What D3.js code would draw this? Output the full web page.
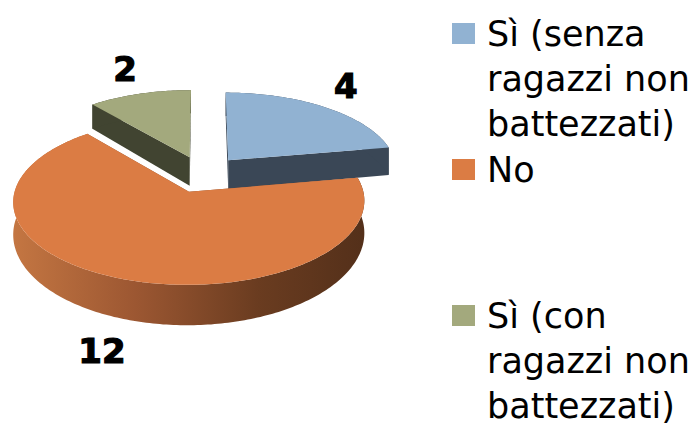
<!DOCTYPE html>
<html>
<head>
<meta charset="utf-8">
<script src="https://cdn.jsdelivr.net/npm/d3@7"></script>
<style>
  html, body { margin: 0; padding: 0; background: #fff; }
  svg { display: block; }
</style>
</head>
<body>
<div id="chart"></div>
<script>
// data
const categories = ["Sì (senza ragazzi non battezzati)", "No", "Sì (con ragazzi non battezzati)"];
const values = [4, 12, 2];
const legendLines = [
  ["Sì (senza", "ragazzi non", "battezzati)"],
  ["No"],
  ["Sì (con", "ragazzi non", "battezzati)"]
];
const topColors = ["#91b2d2", "#db7c44", "#a3a97d"];
const sideColors = ["#3a4756", "#8a4e2c", "#414431"];

const w = 699;
const h = 430;

// 3d pie settings
const R = 170;      // radius
const E = 40;       // explode distance
const D = 1500;     // perspective distance
const tilt = 0.46;  // vertical squash
const H = 30;       // thickness
const cx = 203;
const cy = 174;

const svg = d3.select("#chart")
              .append("svg")
              .attr("width", w)
              .attr("height", h);

const pie = d3.pie().sort(null).value(d => d.value);
const slices = pie(values.map((v, i) => ({ value: v, i: i })));

// project a point on the pie (angle clockwise from 12 o'clock)
const proj = (theta, r, mid, z) => {
  const X = r * Math.sin(theta) + E * Math.sin(mid);
  const Yd = r * Math.cos(theta) + E * Math.cos(mid);
  const s = 1 / (1 + Yd / D);
  return [cx + X * s, cy - tilt * Yd * s + z * H * s * s];
};

const arcPoints = (a0, a1, mid, z) => {
  const n = Math.max(2, Math.ceil(Math.abs(a1 - a0) / (Math.PI / 180)));
  const angle = d3.scaleLinear().domain([0, n]).range([a0, a1]);
  return d3.range(n + 1).map(k => proj(angle(k), R, mid, z));
};

const line = d3.line().curve(d3.curveLinearClosed);

// orange side gradient
const defs = svg.append("defs");
const grad = defs.append("linearGradient")
  .attr("id", "sideGrad1")
  .attr("gradientUnits", "userSpaceOnUse")
  .attr("x1", cx - R - 20).attr("x2", cx + R - 10)
  .attr("y1", 0).attr("y2", 0);
grad.append("stop").attr("offset", "0%").attr("stop-color", "#c47642");
grad.append("stop").attr("offset", "35%").attr("stop-color", "#9c5732");
grad.append("stop").attr("offset", "70%").attr("stop-color", "#6a3c20");
grad.append("stop").attr("offset", "100%").attr("stop-color", "#54301a");

// back slices first
const midOf = d => (d.startAngle + d.endAngle) / 2;
const order = slices.slice().sort((p, q) => Math.cos(midOf(q)) - Math.cos(midOf(p)));

const pieG = svg.append("g").attr("class", "pie");

order.forEach(d => {
  const mid = midOf(d);
  const g = pieG.append("g");
  const sideFill = d.data.i === 1 ? "url(#sideGrad1)" : sideColors[d.data.i];

  // radial cut faces
  [d.startAngle, d.endAngle].forEach(a => {
    const pts = [proj(a, 0, mid, 0), proj(a, R, mid, 0), proj(a, R, mid, 1), proj(a, 0, mid, 1)];
    g.append("path")
      .attr("d", line(pts))
      .attr("fill", sideColors[d.data.i]);
  });

  // outer side
  const topArc = arcPoints(d.startAngle, d.endAngle, mid, 0);
  const botArc = arcPoints(d.startAngle, d.endAngle, mid, 1).reverse();
  g.append("path")
    .attr("d", line(topArc.concat(botArc)))
    .attr("fill", sideFill);

  // top face
  const topPts = [proj(0, 0, mid, 0)].concat(topArc);
  g.append("path")
    .attr("d", line(topPts))
    .attr("fill", topColors[d.data.i]);
});

// data labels (outside end)
const labelFont = "'DejaVu Sans', sans-serif";
svg.append("g")
  .selectAll("text")
  .data(slices)
  .join("text")
  .attr("x", d => proj(midOf(d), R + 45, midOf(d), 0)[0] - 3 * Math.cos(midOf(d)))
  .attr("y", d => {
    const mid = midOf(d);
    const p = proj(mid, R + 45, mid, 0);
    const Yd = (R + 45 + E) * Math.cos(mid);
    const s = 1 / (1 + Yd / D);
    return p[1] + (Math.cos(mid) < 0 ? H * s : 0) - 11 * Math.cos(mid);
  })
  .attr("text-anchor", "middle")
  .attr("dominant-baseline", "central")
  .attr("font-family", labelFont)
  .attr("font-weight", "bold")
  .attr("font-size", 34)
  .attr("fill", "#000")
  .attr("stroke", "#000")
  .attr("stroke-width", 1.2)
  .text(d => d.data.value);

// legend
const legendX = 452;
const textX = 487;
const lineH = 45;
const entryY = [46, 182, 328];
const legendFont = "'DejaVu Sans', sans-serif";

const legend = svg.append("g").attr("class", "legend");

const probe = legend.append("text")
  .attr("font-family", legendFont)
  .attr("font-size", 30)
  .text("ragazzi non");
const fontSize = 30 * 203 / probe.node().getComputedTextLength();
probe.remove();

legendLines.forEach((lines, i) => {
  legend.append("rect")
    .attr("x", legendX)
    .attr("y", entryY[i] - 23)
    .attr("width", 23)
    .attr("height", 21)
    .attr("fill", topColors[i]);
  const t = legend.append("text")
    .attr("font-family", legendFont)
    .attr("font-size", fontSize)
    .attr("fill", "#000");
  lines.forEach((s, k) => {
    t.append("tspan")
      .attr("x", textX)
      .attr("y", entryY[i] + k * lineH)
      .text(s);
  });
  t.append("title").text(categories[i]);
});
</script>
</body>
</html>
